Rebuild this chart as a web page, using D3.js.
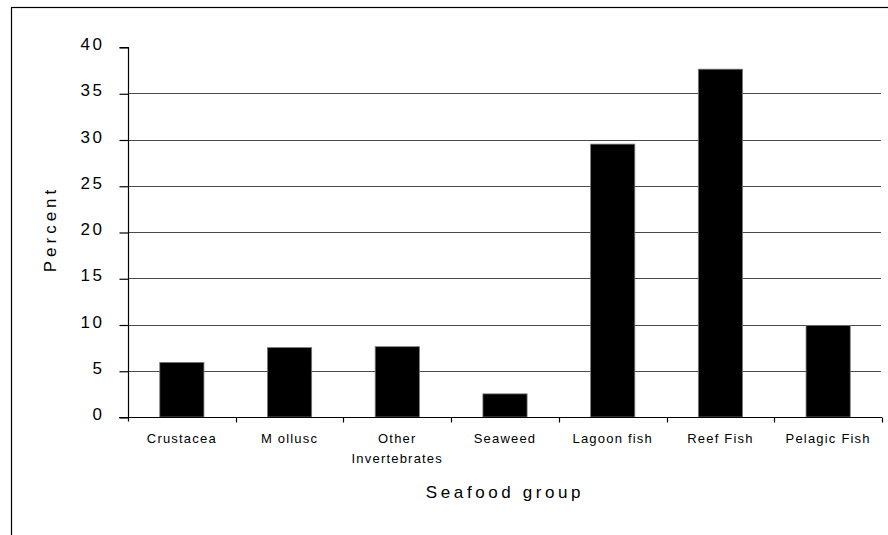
<!DOCTYPE html>
<html>
<head>
<meta charset="utf-8">
<script src="https://cdn.jsdelivr.net/npm/d3@7"></script>
<style>
  html, body { margin: 0; padding: 0; background: #fff; }
  svg { display: block; }
  text { font-family: "Liberation Sans", Arial, sans-serif; fill: #000; }
</style>
</head>
<body>
<svg id="chart" width="888" height="535"></svg>
<script>
// Seafood consumption by group (percent)
const categories = [
  ["Crustacea"],
  ["M ollusc"],
  ["Other", "Invertebrates"],
  ["Seaweed"],
  ["Lagoon fish"],
  ["Reef Fish"],
  ["Pelagic Fish"]
];
const values = [5.9, 7.5, 7.6, 2.5, 29.5, 37.6, 9.9];
const yTicks = [0, 5, 10, 15, 20, 25, 30, 35, 40];
const yTitle = "Percent";
const xTitle = "Seafood group";

const svg = d3.select("#chart");
const W = 888, H = 535;
const plot = { left: 128, right: 882, top: 47, bottom: 417 };

// outer chart frame (runs past the right and bottom edges)
svg.append("rect")
  .attr("x", 11.5).attr("y", 7.5)
  .attr("width", W + 20).attr("height", H + 20)
  .attr("fill", "#fff").attr("stroke", "#000").attr("stroke-width", 1.2);

const keys = categories.map(d => d.join(" "));

const slot = d3.scaleBand().domain(keys).range([plot.left, plot.right]).padding(0);
const x = d3.scaleBand().domain(keys).range([plot.left, plot.right])
  .paddingInner(0.59).paddingOuter(0.295);
const y = d3.scaleLinear().domain([0, 40]).range([plot.bottom, plot.top]);

// horizontal gridlines
svg.append("g")
  .selectAll("line")
  .data(yTicks.filter(t => t > 0 && t < 40))
  .join("line")
  .attr("x1", plot.left).attr("x2", plot.right - 1)
  .attr("y1", d => Math.round(y(d)) + 0.5).attr("y2", d => Math.round(y(d)) + 0.5)
  .attr("stroke", "#4a4a4a").attr("stroke-width", 1.2);

// bars
svg.append("g")
  .selectAll("rect")
  .data(values)
  .join("rect")
  .attr("x", (d, i) => x(keys[i]))
  .attr("width", x.bandwidth())
  .attr("y", d => y(d))
  .attr("height", d => y(0) - y(d))
  .attr("fill", "#000")
  .attr("stroke", "#777").attr("stroke-width", 0.8);

// y axis
const yAxis = d3.axisLeft(y).tickValues(yTicks).tickSize(9).tickPadding(15)
  .tickFormat(d3.format("d"));
const gy = svg.append("g").attr("transform", `translate(${plot.left + 0.5},0.5)`).call(yAxis);
gy.select(".domain").attr("d", `M-9,${plot.top}H0V${plot.bottom + 4}`).attr("stroke", "#000").attr("stroke-width", 1.2);
gy.selectAll(".tick line").attr("stroke", "#000").attr("stroke-width", 1.2);
gy.selectAll(".tick text")
  .style("font-size", "17px").style("letter-spacing", "2.5px")
  .attr("dy", "0.12em");

// x axis: baseline with ticks at the category boundaries
const gx = svg.append("g").attr("transform", `translate(0,${plot.bottom + 0.5})`);
gx.append("line")
  .attr("x1", plot.left - 9).attr("x2", plot.right)
  .attr("stroke", "#000").attr("stroke-width", 1.2);
const bounds = keys.map(k => slot(k)).concat([plot.right]);
gx.selectAll("line.tk")
  .data(bounds.slice(1))
  .join("line").attr("class", "tk")
  .attr("x1", d => Math.round(d) + 0.5).attr("x2", d => Math.round(d) + 0.5)
  .attr("y1", 0).attr("y2", 5)
  .attr("stroke", "#000").attr("stroke-width", 1.2);

// category labels
const lab = gx.selectAll("text.cat")
  .data(categories)
  .join("text").attr("class", "cat")
  .attr("text-anchor", "middle")
  .attr("x", (d, i) => slot(keys[i]) + slot.bandwidth() / 2)
  .attr("y", 25)
  .style("font-size", "13px").style("letter-spacing", "1.2px");
lab.selectAll("tspan")
  .data(d => d)
  .join("tspan")
  .attr("x", function () { return d3.select(this.parentNode).attr("x"); })
  .attr("dy", (d, i) => i === 0 ? 0 : 20)
  .text(d => d);

// axis titles
svg.append("text")
  .attr("x", (plot.left + plot.right) / 2)
  .attr("y", 498)
  .attr("text-anchor", "middle")
  .style("font-size", "17px").style("letter-spacing", "3.6px")
  .text(xTitle);

svg.append("text")
  .attr("transform", `translate(56,${(plot.top + plot.bottom) / 2 - 3}) rotate(-90)`)
  .attr("text-anchor", "middle")
  .style("font-size", "17px").style("letter-spacing", "4px")
  .text(yTitle);
</script>
</body>
</html>
